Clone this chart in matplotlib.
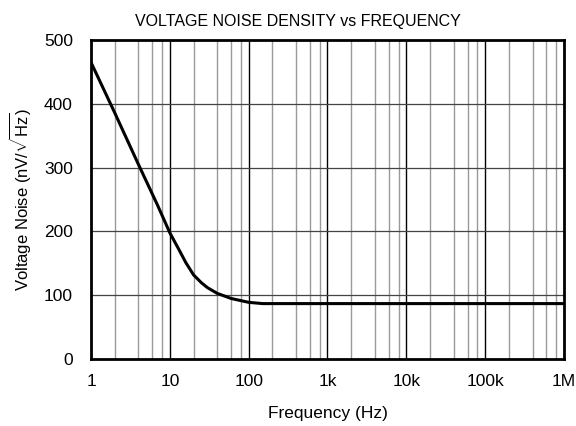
import matplotlib
matplotlib.use("Agg")
import matplotlib.pyplot as plt
import numpy as np

plt.rcParams['font.family'] = ['Liberation Sans', 'DejaVu Sans']
plt.rcParams['mathtext.fontset'] = 'custom'
plt.rcParams['mathtext.rm'] = 'Liberation Sans'

freq = [1, 2, 4, 7, 10, 13, 16, 18, 20, 25, 30, 40, 60, 100, 150, 1e6]
noise = [465, 386, 305, 241, 198, 172, 151, 141, 132, 120, 112, 103, 95, 89, 87, 87]

xtick_vals = [1, 10, 100, 1e3, 1e4, 1e5, 1e6]
xtick_labels = ['1', '10', '100', '1k', '10k', '100k', '1M']
ytick_vals = [0, 100, 200, 300, 400, 500]

fig = plt.figure(figsize=(5.76, 4.26), dpi=100)
ax = fig.add_axes([0.158, 0.157, 0.821, 0.749])
ax.set_xscale('log')
ax.set_xlim(1, 1e6)
ax.set_ylim(0, 500)

# grid
minor = [d * m for d in [1, 10, 100, 1e3, 1e4, 1e5] for m in (2, 4, 6, 8)]
for x in minor:
    ax.axvline(x, color='#999999', lw=1.0, zorder=1)
for x in xtick_vals[1:-1]:
    ax.axvline(x, color='black', lw=1.0, zorder=1)
for y in ytick_vals[1:-1]:
    ax.axhline(y, color='#444444', lw=0.9, zorder=1)

ax.plot(freq, noise, color='black', lw=2.2, zorder=3)

ax.set_xticks(xtick_vals)
ax.set_xticklabels(xtick_labels)
ax.minorticks_off()
ax.set_yticks(ytick_vals)
ax.tick_params(length=0, labelsize=12.5)
ax.tick_params(axis='x', pad=11)
ax.tick_params(axis='y', pad=13)
for s in ax.spines.values():
    s.set_linewidth(2)
    s.set_zorder(4)

ax.set_title('VOLTAGE NOISE DENSITY vs FREQUENCY', fontsize=11.5, pad=10, x=0.4376)
ax.set_xlabel('Frequency (Hz)', fontsize=12.5, labelpad=12)
ax.set_ylabel(r'Voltage Noise (nV/$\sqrt{\mathrm{Hz}}$)', fontsize=12, labelpad=8)

fig.savefig('out.png', dpi=100)
